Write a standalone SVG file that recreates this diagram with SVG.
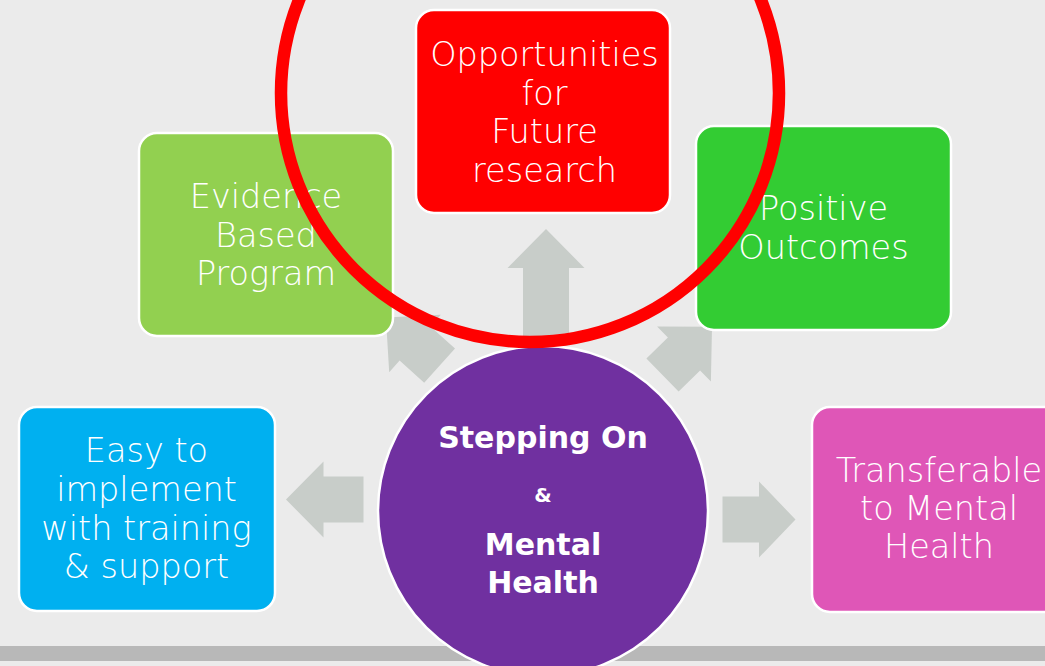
<svg xmlns="http://www.w3.org/2000/svg" width="1045" height="666" viewBox="0 0 1045 666">
  <style>
    .box { stroke: #ffffff; stroke-width: 2.5; }
    .lbl { font-family: "DejaVu Sans", "Liberation Sans", sans-serif; font-weight: 200; font-size: 33.5px; fill: #ffffff; text-anchor: middle; }
    .hub { font-family: "DejaVu Sans", "Liberation Sans", sans-serif; font-weight: bold; font-size: 30px; fill: #ffffff; text-anchor: middle; }
    .arrow { fill: #c8cdc9; }
  </style>

  <!-- backdrop and footer rule -->
  <rect x="0" y="0" width="1045" height="666" fill="#ebebeb"/>
  <rect x="0" y="646" width="1045" height="15" fill="#b8b8b8"/>

  <!-- block arrows radiating from the hub -->
  <g id="connectors">
    <polygon class="arrow" points="546,229 584.5,268 569,268 569,340 523,340 523,268 507.5,268"/>
    <polygon class="arrow" points="385.9,317.4 440.8,314.8 430.4,326.4 455,348.5 424.2,382.7 399.6,360.6 389.2,372.2"/>
    <polygon class="arrow" points="712,326.8 710.9,381.6 700.1,370.5 678.6,391.5 646.4,358.5 667.9,337.5 657.1,326.4"/>
    <polygon class="arrow" points="286,499.5 323.5,461.5 323.5,476.5 363.5,476.5 363.5,522.5 323.5,522.5 323.5,537.5"/>
    <polygon class="arrow" points="722.5,496.5 759,496.5 759,481.5 795.5,519.5 759,557.5 759,542.5 722.5,542.5"/>
  </g>

  <!-- central hub -->
  <g id="hub">
    <circle cx="543" cy="511" r="165" fill="#7030a0" stroke="#ffffff" stroke-width="2.5"/>
    <text class="hub" x="543" y="448">Stepping On</text>
    <text class="hub" x="543" y="502" style="font-size:20px">&amp;</text>
    <text class="hub" x="543" y="555">Mental</text>
    <text class="hub" x="543" y="593">Health</text>
  </g>

  <g id="future-research">
    <rect class="box" x="416" y="10" width="254" height="203" rx="18" fill="#ff0000"/>
    <text class="lbl" x="544.5" y="66">Opportunities</text>
    <text class="lbl" x="544.5" y="104.5">for</text>
    <text class="lbl" x="544.5" y="143">Future</text>
    <text class="lbl" x="544.5" y="181.5">research</text>
  </g>

  <g id="evidence-based">
    <rect class="box" x="139" y="133" width="254" height="203" rx="18" fill="#92d050"/>
    <text class="lbl" x="266" y="208">Evidence</text>
    <text class="lbl" x="266" y="246.5">Based</text>
    <text class="lbl" x="266" y="285">Program</text>
  </g>

  <g id="positive-outcomes">
    <rect class="box" x="696" y="126" width="255" height="204" rx="18" fill="#33cc33"/>
    <text class="lbl" x="823.5" y="220">Positive</text>
    <text class="lbl" x="823.5" y="258.5">Outcomes</text>
  </g>

  <g id="easy-to-implement">
    <rect class="box" x="19" y="407" width="256" height="204" rx="18" fill="#00b0f0"/>
    <text class="lbl" x="146.5" y="462">Easy to</text>
    <text class="lbl" x="146.5" y="501">implement</text>
    <text class="lbl" x="146.5" y="540">with training</text>
    <text class="lbl" x="146.5" y="578">&amp; support</text>
  </g>

  <g id="transferable">
    <rect class="box" x="812" y="407" width="256" height="205" rx="18" fill="#df56b7"/>
    <text class="lbl" x="939" y="482">Transferable</text>
    <text class="lbl" x="939" y="520">to Mental</text>
    <text class="lbl" x="939" y="558">Health</text>
  </g>

  <!-- highlight ring around the research box -->
  <circle id="highlight" cx="530" cy="93" r="249" fill="none" stroke="#ff0000" stroke-width="12.5"/>
</svg>
